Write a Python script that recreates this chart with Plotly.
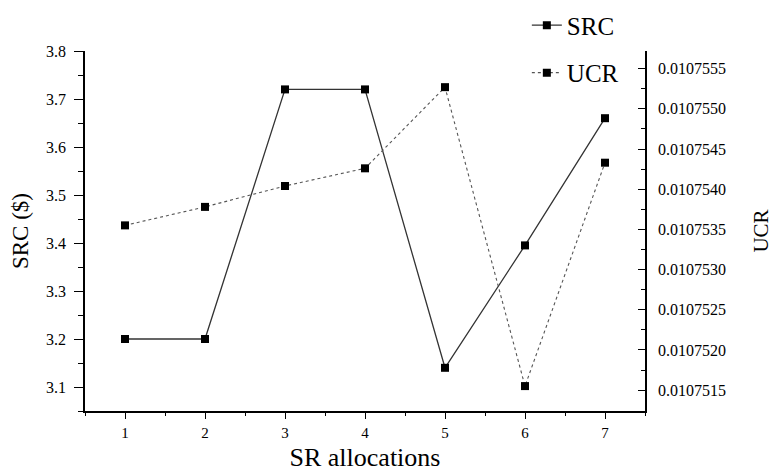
import plotly.graph_objects as go

allocations = [1, 2, 3, 4, 5, 6, 7]
src_values = [3.20, 3.20, 3.72, 3.72, 3.14, 3.395, 3.66]
ucr_values = [0.01075355, 0.01075378, 0.01075404, 0.01075426, 0.01075527, 0.01075155, 0.01075433]
left_ticks = [3.1, 3.2, 3.3, 3.4, 3.5, 3.6, 3.7, 3.8]
right_ticks = [0.0107515, 0.0107520, 0.0107525, 0.0107530, 0.0107535, 0.0107540, 0.0107545, 0.0107550, 0.0107555]

FONT = "Liberation Serif, Times New Roman, DejaVu Serif, serif"

fig = go.Figure()
fig.add_trace(go.Scatter(
    x=allocations, y=src_values, name="SRC", mode="lines+markers",
    line=dict(color="#333333", width=1.3),
    marker=dict(symbol="square", size=8, color="black"),
    legendgroup="a",
))
fig.add_trace(go.Scatter(
    x=allocations, y=ucr_values, name="UCR", mode="lines+markers", yaxis="y2",
    line=dict(color="#555555", width=1.1, dash="dot"),
    marker=dict(symbol="square", size=8, color="black"),
    legendgroup="b",
))

fig.update_layout(
    width=776, height=464,
    margin=dict(l=77, r=139, t=43, b=61, autoexpand=False),
    paper_bgcolor="white", plot_bgcolor="white",
    font=dict(family=FONT, color="black", size=15),
    showlegend=True,
    legend=dict(x=0.789, xanchor="left", y=1.135, yanchor="top",
                font=dict(size=25, family=FONT), bgcolor="rgba(0,0,0,0)",
                tracegroupgap=12),
    xaxis=dict(
        range=[0.5, 7.5], tickvals=allocations, ticktext=[str(a) for a in allocations],
        ticks="outside", ticklen=6, tickwidth=1.4, tickcolor="black",
        minor=dict(ticks="outside", dtick=0.5, tick0=0.5, ticklen=3, tickwidth=1.1, tickcolor="black"),
        showline=True, linecolor="black", linewidth=1.6,
        showgrid=False, zeroline=False, automargin=False,
        ticklabelstandoff=1,
        title=dict(text="SR allocations", font=dict(size=26, family=FONT), standoff=14),
        tickfont=dict(size=15, family=FONT),
    ),
    yaxis=dict(
        range=[3.05, 3.8], tickvals=left_ticks, tickformat=".1f",
        ticks="outside", ticklen=9, tickwidth=1.4, tickcolor="black",
        minor=dict(ticks="outside", dtick=0.05, tick0=3.05, ticklen=5, tickwidth=1.1, tickcolor="black"),
        showline=True, linecolor="black", linewidth=1.6,
        showgrid=False, zeroline=False, automargin=False,
        ticklabelstandoff=5,
        title=dict(text="SRC ($)", font=dict(size=23, family=FONT), standoff=12),
        tickfont=dict(size=16, family=FONT),
    ),
    yaxis2=dict(
        overlaying="y", side="right",
        range=[0.01075124, 0.01075572], tickvals=right_ticks, tickformat=".7f",
        ticks="inside", ticklen=7, tickwidth=1.4, tickcolor="black",
        minor=dict(ticks="inside", dtick=0.00000025, tick0=0.01075125, ticklen=4, tickwidth=1.1, tickcolor="black"),
        showline=True, linecolor="black", linewidth=1.6,
        showgrid=False, zeroline=False, automargin=False,
        ticklabelstandoff=8,
        title=dict(text="UCR", font=dict(size=21, family=FONT), standoff=28),
        tickfont=dict(size=16, family=FONT),
    ),
)

fig.write_html("out.html")
